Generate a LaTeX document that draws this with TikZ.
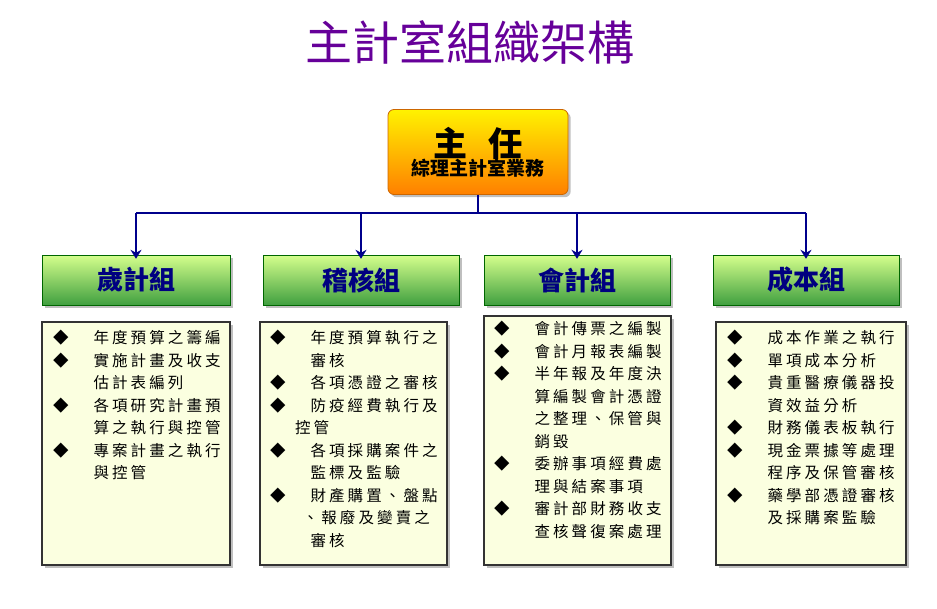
\documentclass[tikz,border=0pt]{standalone}
\usepackage{fontspec}
\setmainfont{Noto Sans CJK TC}
\newfontfamily\cjk[LetterSpace=20]{Noto Sans CJK TC}
\usetikzlibrary{positioning, shadows, arrows.meta}
\newcommand{\blt}{\makebox[2.6em][l]{◆}}
\newcommand{\ind}{\hspace*{2.6em}}
\tikzset{
  headbox/.style={draw=orange!80!black, rounded corners=6pt, top color=yellow!90!orange, bottom color=orange, minimum width=180pt, minimum height=85pt, align=center, drop shadow, line width=0.8pt},
  groupbox/.style={draw=green!40!black, top color=green!15!lime!45, bottom color=green!50!black!75, minimum height=50pt, font=\fontsize{26}{28}\selectfont\bfseries, text=blue!50!black, drop shadow},
  dutyframe/.style={draw=black!80, line width=1.2pt, fill=green!12!yellow!12, drop shadow},
  dutytext/.style={anchor=north west, align=left, inner sep=0pt, font=\cjk\fontsize{15.5}{22.5}\selectfont},
  link/.style={draw=blue!55!black, line width=2.4pt},
  linkarrow/.style={link, -{Stealth[length=9pt,width=11pt]}}
}
\begin{document}
\begin{tikzpicture}[x=1pt, y=-1pt]
  \useasboundingbox (0,0) rectangle (937,608);
  \node[text=violet!80!blue, font=\fontsize{47}{50}\selectfont] (title) at (470,42) {主計室組織架構};
  \node[headbox] (head) at (478,152) {{\fontsize{34}{38}\selectfont\bfseries 主\hspace{0.6em}任}\\[-2pt]{\fontsize{19}{22}\selectfont\bfseries 綜理主計室業務}};
  % groups
  \node[groupbox, minimum width=188pt] (g1) at (136,280) {歲計組};
  \node[groupbox, minimum width=196pt] (g2) at (361,280) {稽核組};
  \node[groupbox, minimum width=186pt] (g3) at (577,280) {會計組};
  \node[groupbox, minimum width=186pt] (g4) at (806,280) {成本組};
  % connectors
  \coordinate (bus) at (478,213);
  \draw[link] (head.south) -- (bus);
  \draw[link] (bus -| g1) -- (bus -| g4);
  \foreach \g in {g1,g2,g3,g4}
    \draw[linkarrow] (bus -| \g) -- ([yshift=-4pt]\g.north);
  % duties
  \draw[dutyframe] (42,322) rectangle (230,565);
  \draw[dutyframe] (260,322) rectangle (447,565);
  \draw[dutyframe] (484,316) rectangle (671,565);
  \draw[dutyframe] (716,322) rectangle (906,565);
  \node[dutytext] (d1) at (53,330) {%
    \blt 年度預算之籌編\\
    \blt 實施計畫及收支\\
    \ind 估計表編列\\
    \blt 各項研究計畫預\\
    \ind 算之執行與控管\\
    \blt 專案計畫之執行\\
    \ind 與控管};
  \node[dutytext] (d2) at (270,330) {%
    \blt 年度預算執行之\\
    \ind 審核\\
    \blt 各項憑證之審核\\
    \blt 防疫經費執行及\\
    \hspace*{1.6em}控管\\
    \blt 各項採購案件之\\
    \ind 監標及監驗\\
    \blt 財產購置、盤點\\
    \hspace*{2.1em}、報廢及變賣之\\
    \ind 審核};
  \node[dutytext] (d3) at (494,321) {%
    \blt 會計傳票之編製\\
    \blt 會計月報表編製\\
    \blt 半年報及年度決\\
    \ind 算編製會計憑證\\
    \ind 之整理、保管與\\
    \ind 銷毀\\
    \blt 委辦事項經費處\\
    \ind 理與結案事項\\
    \blt 審計部財務收支\\
    \ind 查核聲復案處理};
  \node[dutytext] (d4) at (727,330) {%
    \blt 成本作業之執行\\
    \blt 單項成本分析\\
    \blt 貴重醫療儀器投\\
    \ind 資效益分析\\
    \blt 財務儀表板執行\\
    \blt 現金票據等處理\\
    \ind 程序及保管審核\\
    \blt 藥學部憑證審核\\
    \ind 及採購案監驗};
\end{tikzpicture}
\end{document}
